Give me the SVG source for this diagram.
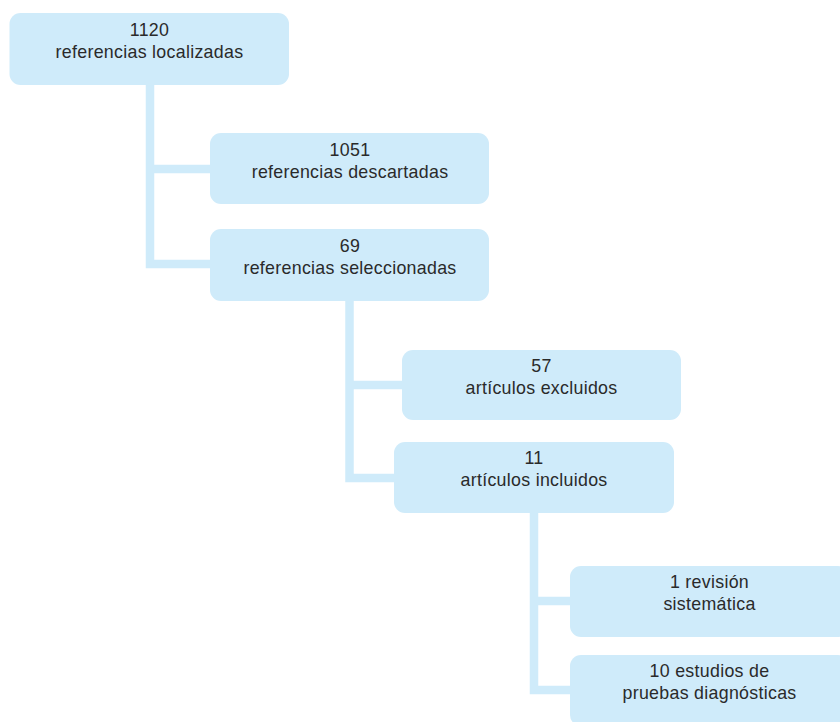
<svg xmlns="http://www.w3.org/2000/svg" width="840" height="722" viewBox="0 0 840 722">
<style>
.box{fill:#cfebfa}
.conn{fill:none;stroke:#cfebfa;stroke-width:8.5;stroke-linecap:butt;stroke-linejoin:miter}
text{font-family:"Liberation Sans",Arial,sans-serif;font-size:17.8px;letter-spacing:0.3px;fill:#2a2a2a;text-anchor:middle}
</style>
<rect width="840" height="722" fill="#ffffff"/>
<g id="connectors">
<path class="conn" d="M150,85 V264 H210 M150,169 H210"/>
<path class="conn" d="M349.5,301 V478 H394 M349.5,385 H402"/>
<path class="conn" d="M534,513 V690 H570 M534,601 H570"/>
</g>
<g id="n1">
<rect class="box" x="9.5" y="13" width="279.5" height="72" rx="11"/>
<text x="149.5" y="36">1120</text>
<text x="149.5" y="58">referencias localizadas</text>
</g>
<g id="n2">
<rect class="box" x="210" y="133" width="279" height="71" rx="11"/>
<text x="350" y="156">1051</text>
<text x="350" y="178">referencias descartadas</text>
</g>
<g id="n3">
<rect class="box" x="210" y="229" width="279" height="72" rx="11"/>
<text x="350" y="252">69</text>
<text x="350" y="274">referencias seleccionadas</text>
</g>
<g id="n4">
<rect class="box" x="402" y="350" width="279" height="70" rx="11"/>
<text x="541.5" y="372">57</text>
<text x="541.5" y="394">artículos excluidos</text>
</g>
<g id="n5">
<rect class="box" x="394" y="442" width="280" height="71" rx="11"/>
<text x="534" y="464">11</text>
<text x="534" y="486">artículos incluidos</text>
</g>
<g id="n6">
<rect class="box" x="570" y="566" width="279" height="71" rx="11"/>
<text x="709.5" y="588">1 revisión</text>
<text x="709.5" y="610">sistemática</text>
</g>
<g id="n7">
<rect class="box" x="570" y="655" width="279" height="71" rx="11"/>
<text x="709.5" y="677">10 estudios de</text>
<text x="709.5" y="699">pruebas diagnósticas</text>
</g>
</svg>
